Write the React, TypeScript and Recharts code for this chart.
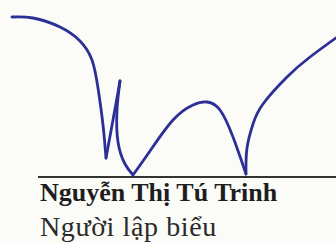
import React from 'react';
import { LineChart, Line, XAxis, YAxis, ReferenceLine } from 'recharts';

// signature strokes, in page pixels (y grows downward)
const stroke1 = [
  { x: 12, y: 17 }, { x: 33, y: 18 }, { x: 60, y: 27 }, { x: 80, y: 41 },
  { x: 92, y: 60 }, { x: 98, y: 88 }, { x: 103, y: 125 }, { x: 106, y: 158 },
];
const stroke2 = [{ x: 106, y: 158 }, { x: 113, y: 120 }, { x: 120, y: 81 }];
const stroke3 = [
  { x: 120, y: 81 }, { x: 117, y: 110 }, { x: 118, y: 142 }, { x: 125, y: 164 }, { x: 133, y: 175 },
];
const stroke4 = [
  { x: 133, y: 175 }, { x: 150, y: 151 }, { x: 173, y: 120 }, { x: 193, y: 105 },
  { x: 207, y: 102 }, { x: 220, y: 110 }, { x: 233, y: 137 }, { x: 246, y: 174 },
];
const stroke5 = [
  { x: 246, y: 174 }, { x: 247, y: 148 }, { x: 253, y: 124 }, { x: 263, y: 104 },
  { x: 287, y: 77 }, { x: 310, y: 57 }, { x: 340, y: 35 },
];
const strokes = [stroke1, stroke2, stroke3, stroke4, stroke5];

const signer = 'Nguyễn Thị Tú Trinh';
const role = 'Người lập biểu';

const ink = '#2c3096';

export default function App() {
  return (
    <div style={{ position: 'absolute', left: 0, top: 0, width: 336, height: 243, background: '#fbfbf7', overflow: 'hidden' }}>
      <LineChart width={336} height={243} margin={{ top: 0, right: 0, bottom: 0, left: 0 }}>
        <XAxis type="number" dataKey="x" domain={[0, 336]} hide allowDataOverflow />
        <YAxis type="number" dataKey="y" domain={[0, 243]} reversed hide allowDataOverflow />
        <ReferenceLine segment={[{ x: 38, y: 177 }, { x: 336, y: 177 }]} stroke="#333" strokeWidth={2} />
        {strokes.map((s, i) => (
          <Line
            key={i}
            data={s}
            dataKey="y"
            type="natural"
            stroke={ink}
            strokeWidth={2.8}
            strokeLinecap="round"
            dot={false}
            activeDot={false}
            isAnimationActive={false}
          />
        ))}
      </LineChart>
      <div style={{ position: 'absolute', left: 40, top: 178, fontFamily: '"Liberation Serif", serif', fontWeight: 'bold', fontSize: 26, color: '#1e1e1e', whiteSpace: 'nowrap' }}>
        {signer}
      </div>
      <div style={{ position: 'absolute', left: 40, top: 211, fontFamily: '"Liberation Serif", serif', fontSize: 28, letterSpacing: 0.6, color: '#2a2a2a', whiteSpace: 'nowrap' }}>
        {role}
      </div>
    </div>
  );
}
